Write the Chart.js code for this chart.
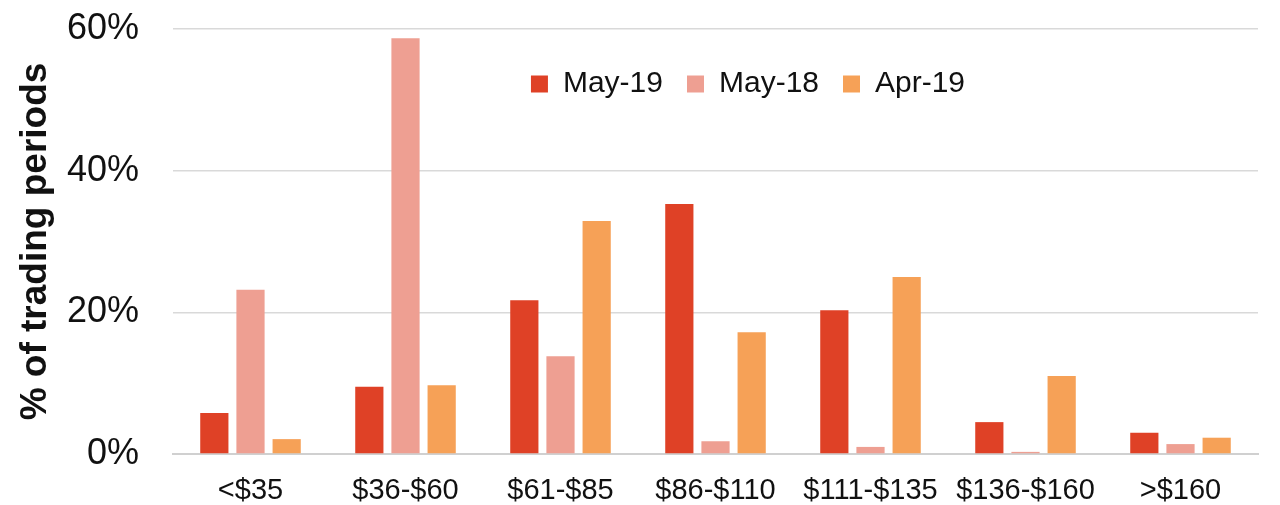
<!DOCTYPE html>
<html>
<head>
<meta charset="utf-8">
<script src="https://cdn.jsdelivr.net/npm/chart.js@4"></script>
<style>
  html, body { margin: 0; padding: 0; background: #fff; }
  #wrap { width: 1280px; height: 505px; }
</style>
</head>
<body>
<div id="wrap"><canvas id="priceChart"></canvas></div>
<script>
// Price bands and share of trading periods (%)
const categories = ['<$35', '$36-$60', '$61-$85', '$86-$110', '$111-$135', '$136-$160', '>$160'];
const may19 = [5.8, 9.5, 21.7, 35.3, 20.3, 4.5, 3.0];
const may18 = [23.2, 58.7, 13.8, 1.8, 1.0, 0.3, 1.4];
const apr19 = [2.1, 9.7, 32.9, 17.2, 25.0, 11.0, 2.3];
const yTicks = [0, 20, 40, 60];

const FONT = "'Liberation Sans', Arial, sans-serif";

// legend floats over the plot: take no layout room, then place it
const legendFloat = {
  id: 'legendFloat',
  beforeLayout(chart) {
    const lg = chart.legend;
    if (lg && !lg._floatPatched) {
      const origFit = lg.fit.bind(lg);
      lg.fit = function () { origFit(); this.height = 0; };
      lg._floatPatched = true;
    }
  },
  afterLayout(chart) {
    const lg = chart.legend;
    const shift = 748 - (lg.left + lg.right) / 2;
    lg.left += shift;
    lg.right += shift;
    lg.top = 45;
    lg.bottom = 45 + 70;
  }
};

const bar = (label, data, color) => ({
  label: label,
  data: data,
  backgroundColor: color,
  borderWidth: 0,
  barPercentage: 0.78,
  categoryPercentage: 0.70,
});

new Chart(document.getElementById('priceChart').getContext('2d'), {
  type: 'bar',
  data: {
    labels: categories,
    datasets: [
      bar('May-19', may19, '#DF4126'),
      bar('May-18', may18, '#EE9F92'),
      bar('Apr-19', apr19, '#F6A157'),
    ],
  },
  options: {
    responsive: true,
    maintainAspectRatio: false,
    animation: false,
    layout: { padding: { left: 12, right: 22, top: 0, bottom: 0 } },
    plugins: {
      tooltip: { enabled: false },
      legend: {
        position: 'top',
        align: 'center',
        labels: {
          boxWidth: 17,
          boxHeight: 17,
          padding: 24,
          color: '#111',
          font: { family: FONT, size: 30 },
        },
      },
    },
    scales: {
      x: {
        afterFit(axis) { axis.height = 51; },
        grid: { display: false },
        border: { color: '#d0d0d0', width: 2 },
        ticks: {
          color: '#111',
          padding: 12,
          maxRotation: 0,
          autoSkip: false,
          font: { family: FONT, size: 29 },
        },
      },
      y: {
        min: 0,
        max: 60,
        afterFit(axis) {
          axis.width = 161;
          axis.paddingTop = 29;
          axis.paddingBottom = 0;
        },
        afterBuildTicks(axis) {
          axis.ticks = yTicks.map(v => ({ value: v }));
        },
        grid: { color: '#d9d9d9', lineWidth: 1.5, drawTicks: false },
        border: { display: false },
        ticks: {
          color: '#111',
          padding: 34,
          callback: v => v + '%',
          font: { family: FONT, size: 36 },
        },
        title: {
          display: true,
          text: '% of trading periods',
          color: '#111',
          padding: { top: 2, bottom: 0 },
          font: { family: FONT, size: 37, weight: 'bold' },
        },
      },
    },
  },
  plugins: [legendFloat],
});
</script>
</body>
</html>
